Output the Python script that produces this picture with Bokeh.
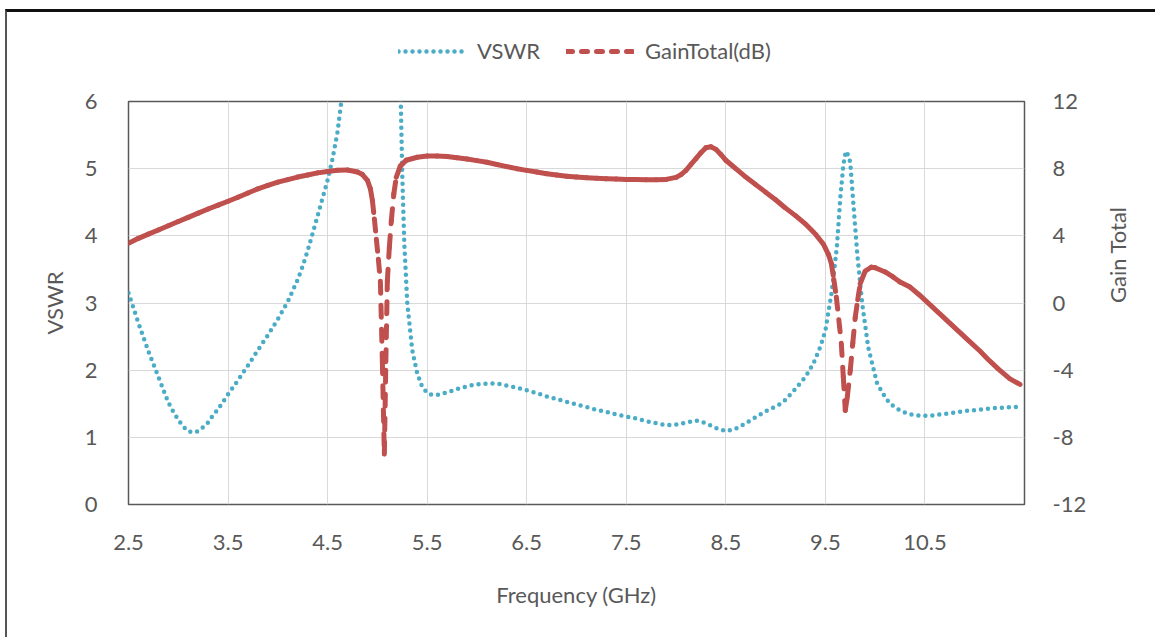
import math

from bokeh.plotting import figure
from bokeh.layouts import column
from bokeh.models import Range1d, LinearAxis, FixedTicker, Legend, LegendItem
from bokeh.embed import file_html
from bokeh.resources import INLINE

# ---- data -----------------------------------------------------------------
freq_vswr = [2.5, 2.6, 2.7, 2.8, 2.9, 2.95, 3.0, 3.05, 3.1, 3.15, 3.2, 3.25, 3.3,
             3.35, 3.4, 3.45, 3.5, 3.6, 3.7, 3.8, 3.9, 4.0, 4.1, 4.2, 4.25, 4.3,
             4.4, 4.5, 4.55, 4.6, 4.65, 4.7, 4.85, 5.0, 5.15, 5.22, 5.235, 5.25,
             5.27, 5.3, 5.35, 5.4, 5.45, 5.5, 5.55, 5.6, 5.7, 5.8, 5.9, 6.0, 6.1,
             6.2, 6.3, 6.4, 6.5, 6.6, 6.7, 6.8, 6.9, 7.0, 7.1, 7.2, 7.3, 7.4, 7.5,
             7.6, 7.7, 7.8, 7.9, 8.0, 8.1, 8.2, 8.3, 8.4, 8.5, 8.6, 8.7, 8.8, 8.9,
             9.0, 9.05, 9.1, 9.21, 9.3, 9.38, 9.45, 9.5, 9.565, 9.615, 9.65, 9.68,
             9.705, 9.73, 9.75, 9.78, 9.82, 9.87, 9.93, 10.02, 10.1, 10.15, 10.25,
             10.33, 10.45, 10.55, 10.65, 10.75, 10.85, 10.95, 11.05, 11.15, 11.25,
             11.35, 11.47]
vswr = [3.15, 2.7, 2.28, 1.9, 1.52, 1.38, 1.26, 1.16, 1.09, 1.07, 1.09, 1.15, 1.22,
        1.33, 1.42, 1.53, 1.64, 1.85, 2.07, 2.3, 2.52, 2.76, 3.02, 3.35, 3.55, 3.78,
        4.3, 4.83, 5.15, 5.55, 6.15, 7.0, 10.5, 14.0, 9.5, 6.6, 6.0, 4.9,
        3.9, 3.0, 2.3, 1.95, 1.75, 1.66, 1.63, 1.63, 1.67, 1.72, 1.76, 1.79, 1.8,
        1.8, 1.77, 1.74, 1.7, 1.66, 1.61, 1.57, 1.53, 1.49, 1.45, 1.41, 1.38, 1.34, 1.31,
        1.28, 1.24, 1.21, 1.18, 1.19, 1.22, 1.25, 1.21, 1.14, 1.09, 1.13, 1.21, 1.3, 1.39,
        1.46, 1.5, 1.56, 1.74, 1.9, 2.1, 2.35, 2.59, 3.18, 3.83, 4.57, 5.05,
        5.26, 5.2, 5.09, 4.5, 3.73, 2.99, 2.34, 1.8, 1.6, 1.5, 1.4,
        1.35, 1.32, 1.32, 1.34, 1.36, 1.38, 1.4, 1.41, 1.43, 1.44,
        1.45, 1.45]

freq_gain = [2.5, 2.6, 2.7, 2.8, 2.9, 3.0, 3.1, 3.2, 3.3, 3.4, 3.5, 3.6, 3.7, 3.8,
             3.9, 4.0, 4.1, 4.2, 4.3, 4.4, 4.5, 4.6, 4.7, 4.8, 4.85, 4.9, 4.93, 4.95,
             4.97, 4.99, 5.01, 5.03, 5.05, 5.07, 5.085, 5.1, 5.12, 5.14, 5.165, 5.19,
             5.23, 5.29, 5.4, 5.5, 5.6, 5.7, 5.8, 5.9, 6.0, 6.1, 6.2, 6.3, 6.4, 6.5,
             6.6, 6.7, 6.8, 6.9, 7.0, 7.1, 7.2, 7.3, 7.4, 7.5, 7.6, 7.7, 7.8, 7.9,
             8.0, 8.05, 8.1, 8.15, 8.2, 8.25, 8.3, 8.35, 8.4, 8.45, 8.5, 8.6, 8.7,
             8.8, 8.9, 9.0, 9.1, 9.2, 9.3, 9.4, 9.48, 9.53, 9.56, 9.585, 9.61, 9.635,
             9.66, 9.68, 9.7, 9.72, 9.75, 9.775, 9.8, 9.825, 9.85, 9.9, 9.96, 10.0,
             10.1, 10.18, 10.25, 10.35, 10.45, 10.55, 10.65, 10.75, 10.85, 10.95,
             11.05, 11.15, 11.25, 11.35, 11.47]
gain_db = [3.55, 3.85, 4.1, 4.35, 4.6, 4.85, 5.1, 5.35, 5.6, 5.83, 6.06, 6.3, 6.55, 6.8,
           7.0, 7.2, 7.35, 7.5, 7.62, 7.75, 7.83, 7.9, 7.92, 7.8, 7.65, 7.3, 6.8, 6.1,
           5.0, 3.8, 2.6, 1.3, -3.5, -9.0, -3.5, 1.3, 3.3, 4.9, 6.5, 7.5,
           8.15, 8.5, 8.68, 8.75, 8.75, 8.72, 8.65, 8.57, 8.48, 8.38, 8.25, 8.12, 8.0, 7.9,
           7.8, 7.7, 7.62, 7.55, 7.5, 7.46, 7.43, 7.4, 7.38, 7.36, 7.35, 7.34, 7.34, 7.36,
           7.48, 7.65, 7.9, 8.25, 8.6, 8.95, 9.25, 9.3, 9.15, 8.85, 8.5, 8.0, 7.5,
           7.05, 6.6, 6.15, 5.65, 5.2, 4.7, 4.1, 3.5, 2.9, 2.35, 1.4, 0.35, -1.0,
           -2.4, -4.4, -6.4, -5.6, -4.0, -2.4, -0.85, 0.2, 1.15, 1.9, 2.13, 2.1,
           1.85, 1.55, 1.25, 0.95, 0.45, -0.1, -0.65, -1.2, -1.75, -2.3,
           -2.85, -3.45, -4.0, -4.5, -4.9]

x_ticks = [2.5, 3.5, 4.5, 5.5, 6.5, 7.5, 8.5, 9.5, 10.5]
vswr_ticks = [0, 1, 2, 3, 4, 5, 6]
gain_ticks = [-12, -8, -4, 0, 4, 8, 12]

# ---- styling ---------------------------------------------------------------
FONT = "Lato"
TEXT = "#595959"
VSWR_COLOR = "#4bacc6"
GAIN_COLOR = "#c0504d"
FS = "22px"
VSWR_STYLE = dict(line_color=VSWR_COLOR, line_width=4.5, line_dash="0 7",
                  line_cap="round")
GAIN_STYLE = dict(line_color=GAIN_COLOR, line_width=5, line_dash="12 12",
                  line_cap="round", line_join="round")
GAIN_KEY_STYLE = dict(GAIN_STYLE, line_dash="6 9")

# ---- main chart --------------------------------------------------------------
p = figure(width=1155, height=557, output_backend="svg", toolbar_location=None,
           x_range=Range1d(2.5, 11.5), y_range=Range1d(0, 6),
           min_border_left=128, min_border_right=131,
           min_border_top=21, min_border_bottom=133)
p.extra_y_ranges = {"gain": Range1d(-12, 12)}
p.background_fill_color = "white"
p.border_fill_color = "white"
p.outline_line_color = "#595959"
p.outline_line_width = 1.5


def style_axis(ax):
    ax.axis_line_color = None
    ax.major_tick_line_color = None
    ax.minor_tick_line_color = None
    ax.major_label_text_font = FONT
    ax.major_label_text_font_size = FS
    ax.major_label_text_color = TEXT
    ax.axis_label_text_font = FONT
    ax.axis_label_text_font_size = FS
    ax.axis_label_text_font_style = "normal"
    ax.axis_label_text_color = TEXT


style_axis(p.xaxis[0])
style_axis(p.yaxis[0])

p.xaxis.ticker = FixedTicker(ticks=x_ticks)
p.xaxis.major_label_standoff = 24
p.xaxis.axis_label = "Frequency (GHz)"
p.xaxis.axis_label_standoff = 28

p.yaxis.ticker = FixedTicker(ticks=vswr_ticks)
p.yaxis.major_label_standoff = 25
p.yaxis.axis_label = "VSWR"
p.yaxis.axis_label_standoff = 14

right = LinearAxis(y_range_name="gain", ticker=FixedTicker(ticks=gain_ticks))
style_axis(right)
right.major_label_standoff = 22
right.major_label_overrides = {t: str(t) for t in gain_ticks}
right.axis_label = "Gain Total"
right.axis_label_standoff = 28
try:
    right.axis_label_orientation = math.pi / 2
except (AttributeError, ValueError):
    pass
p.add_layout(right, "right")

p.xgrid.ticker = FixedTicker(ticks=x_ticks)
p.ygrid.ticker = FixedTicker(ticks=vswr_ticks)
for g in (p.xgrid[0], p.ygrid[0]):
    g.grid_line_color = "#d9d9d9"
    g.grid_line_width = 1

p.line(freq_vswr, vswr, **VSWR_STYLE)

# one piece per interval, so the dash pattern restarts at every sample
seg_x = [[freq_gain[i], freq_gain[i + 1]] for i in range(len(freq_gain) - 1)]
seg_y = [[gain_db[i], gain_db[i + 1]] for i in range(len(gain_db) - 1)]
p.multi_line(seg_x, seg_y, y_range_name="gain", **GAIN_STYLE)

# ---- legend strip above the chart ------------------------------------------
# the key renderers carry the series but lie outside this strip's ranges,
# so only their legend swatches appear
top = figure(width=1155, height=80, output_backend="svg", toolbar_location=None,
             x_range=Range1d(0, 1), y_range=Range1d(0, 1),
             x_axis_location=None, y_axis_location=None, min_border=0)
top.grid.visible = False
top.outline_line_color = None
top.background_fill_color = "white"
top.border_fill_color = "white"
key_vswr = top.line(freq_vswr, vswr, **VSWR_STYLE)
key_gain = top.line(freq_gain, gain_db, **GAIN_KEY_STYLE)
legend = Legend(items=[LegendItem(label="VSWR", renderers=[key_vswr]),
                       LegendItem(label="GainTotal(dB)", renderers=[key_gain])],
                orientation="horizontal", location=(270, 16),
                glyph_width=68, glyph_height=20, label_standoff=11, spacing=26,
                padding=0, margin=0, border_line_alpha=0, background_fill_alpha=0,
                label_text_font=FONT, label_text_font_size=FS,
                label_text_color=TEXT)
top.add_layout(legend, "center")

layout = column(top, p, spacing=0)
# chart border (heavy top edge, thin left edge) drawn over the canvas
layout.stylesheets = [
    ":host { position: relative; }"
    ":host::after { content: ''; position: absolute; left: 5px; top: 9px;"
    " right: 0; bottom: 0; border-top: 3px solid #111111;"
    " border-left: 2px solid #555555; pointer-events: none; z-index: 10; }"
]

open("out.html", "w").write(file_html(layout, INLINE))
